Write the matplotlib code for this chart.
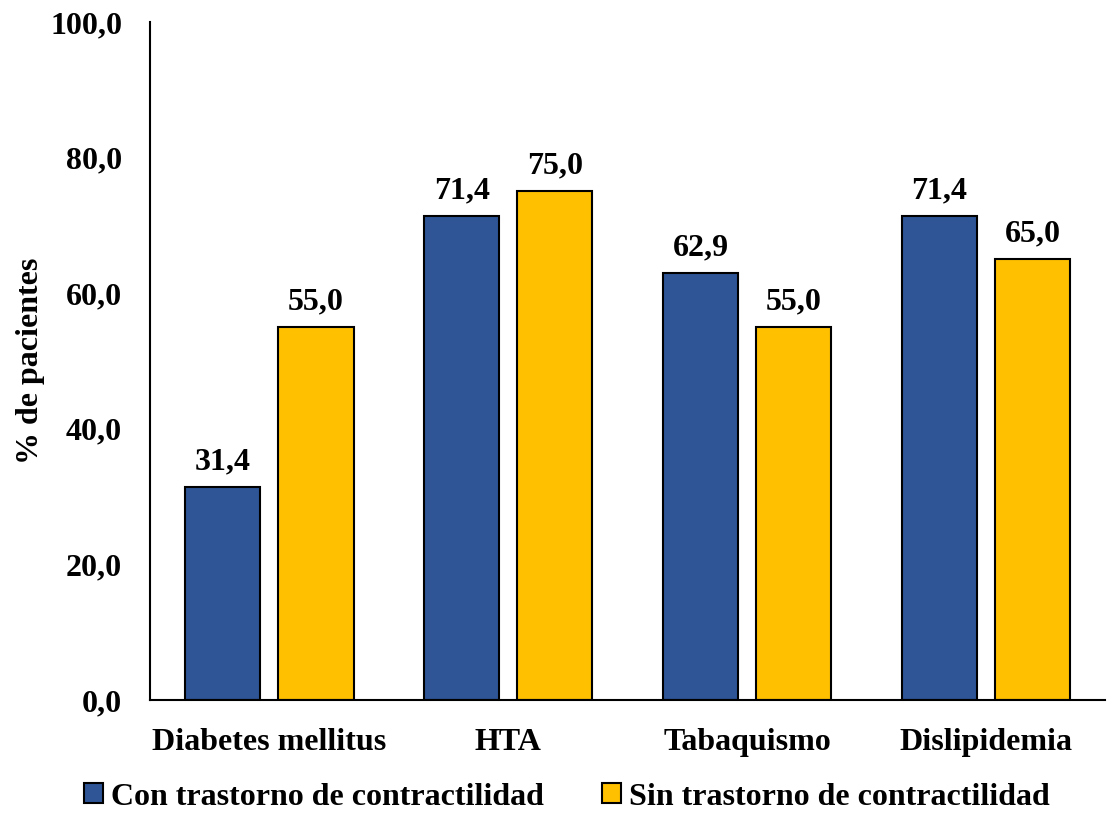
import matplotlib.pyplot as plt
import numpy as np

categorias = ['Diabetes mellitus', 'HTA', 'Tabaquismo', 'Dislipidemia']
con_trastorno = [31.4, 71.4, 62.9, 71.4]
sin_trastorno = [55.0, 75.0, 55.0, 65.0]
series = ['Con trastorno de contractilidad', 'Sin trastorno de contractilidad']

plt.rcParams['font.family'] = ['Liberation Serif', 'DejaVu Serif']
plt.rcParams['font.weight'] = 'bold'

fig = plt.figure(figsize=(11.16, 8.15), dpi=100)
ax = fig.add_axes([0.1344, 0.1411, 0.856, 0.832])

x = np.arange(len(categorias))
w = 0.315
off = 0.195
b1 = ax.bar(x - off, con_trastorno, w, color='#2F5597', edgecolor='black', linewidth=1.5, label=series[0])
b2 = ax.bar(x + off, sin_trastorno, w, color='#FFC000', edgecolor='black', linewidth=1.5, label=series[1])

for rects in (b1, b2):
  for r in rects:
    v = r.get_height()
    ax.text(r.get_x() + r.get_width() / 2, v + 1.6, ('%.1f' % v).replace('.', ','),
            ha='center', va='bottom', fontsize=23, fontweight='bold')

ax.set_xlim(-0.5, 3.5)
ax.set_ylim(0, 100)
ax.set_yticks(np.arange(0, 101, 20))
ax.set_yticklabels([('%.1f' % t).replace('.', ',') for t in np.arange(0, 101, 20)])
ax.set_xticks(x)
ax.set_xticklabels(categorias)
ax.tick_params(axis='both', length=0, labelsize=23)
ax.tick_params(axis='x', pad=20)
ax.tick_params(axis='y', pad=20)
for lab in ax.get_xticklabels() + ax.get_yticklabels():
  lab.set_fontweight('bold')

ax.spines['top'].set_visible(False)
ax.spines['right'].set_visible(False)
ax.spines['left'].set_linewidth(1.5)
ax.spines['bottom'].set_linewidth(1.5)

ax.set_ylabel('% de pacientes', fontsize=23, fontweight='bold', labelpad=4)

fig.legend(handles=[b1, b2], loc='center', bbox_to_anchor=(0.508, 0.022), ncol=2, frameon=False,
           prop={'size': 23, 'weight': 'bold'}, handlelength=0.6, handleheight=0.6,
           handletextpad=0.25, columnspacing=1.8)

fig.savefig('out.png', dpi=100)
